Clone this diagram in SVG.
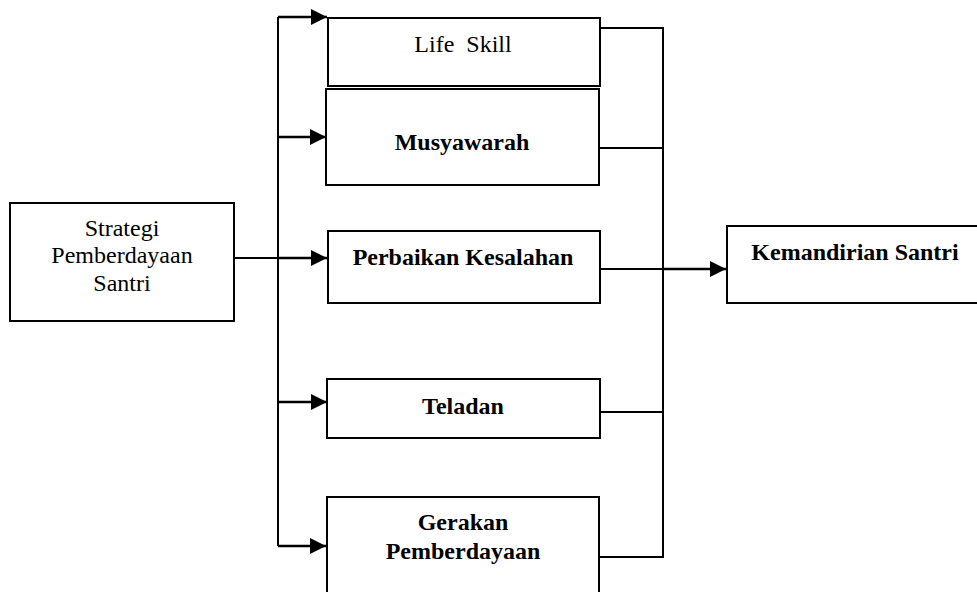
<svg xmlns="http://www.w3.org/2000/svg" width="977" height="592" viewBox="0 0 977 592">
<style>
.box{fill:#fff;stroke:#000;stroke-width:2}
.t{font-family:"Liberation Serif","Times New Roman",serif;font-size:24px;fill:#000;text-anchor:middle}
.b{font-weight:bold}
.ln{fill:none;stroke:#000;stroke-width:2}
.ar{fill:none;stroke:#000;stroke-width:2.6}
</style>
<defs>
<marker id="ah" markerUnits="userSpaceOnUse" markerWidth="18" markerHeight="18" refX="16" refY="8" orient="auto" overflow="visible">
<path d="M0,0 L16,8 L0,16 Z" fill="#000"/>
</marker>
</defs>
<rect width="977" height="592" fill="#fff"/>
<g id="connectors">
<path class="ln" d="M278,17 V546"/>
<path class="ar" d="M278,17 H327" marker-end="url(#ah)"/>
<path class="ar" d="M278,137 H326" marker-end="url(#ah)"/>
<path class="ln" d="M230,258 H278"/>
<path class="ar" d="M278,258 H327" marker-end="url(#ah)"/>
<path class="ar" d="M278,402 H327" marker-end="url(#ah)"/>
<path class="ar" d="M278,546 H326" marker-end="url(#ah)"/>
<path class="ln" d="M599,28 H663 V557 H599"/>
<path class="ln" d="M599,148 H663"/>
<path class="ln" d="M597,269 H663"/>
<path class="ln" d="M599,412 H663"/>
<path class="ar" d="M663,269 H726" marker-end="url(#ah)"/>
</g>
<g id="strategi">
<rect class="box" x="10" y="203" width="224" height="118"/>
<text class="t" x="122" y="236">Strategi</text>
<text class="t" x="122" y="263">Pemberdayaan</text>
<text class="t" x="122" y="291">Santri</text>
</g>
<g id="lifeskill">
<rect class="box" x="328" y="18" width="272" height="68"/>
<text class="t" x="463" y="52" style="word-spacing:6px">Life Skill</text>
</g>
<g id="musyawarah">
<rect class="box" x="326" y="89" width="273" height="96"/>
<text class="t b" x="462" y="150">Musyawarah</text>
</g>
<g id="perbaikan">
<rect class="box" x="328" y="231" width="272" height="72"/>
<text class="t b" x="463" y="265">Perbaikan Kesalahan</text>
</g>
<g id="teladan">
<rect class="box" x="327" y="379" width="273" height="59"/>
<text class="t b" x="463" y="414">Teladan</text>
</g>
<g id="gerakan">
<rect class="box" x="327" y="497" width="272" height="110"/>
<text class="t b" x="463" y="530">Gerakan</text>
<text class="t b" x="463" y="559">Pemberdayaan</text>
</g>
<g id="kemandirian">
<rect class="box" x="727" y="226" width="260" height="77"/>
<text class="t b" x="855" y="260">Kemandirian Santri</text>
</g>
</svg>
